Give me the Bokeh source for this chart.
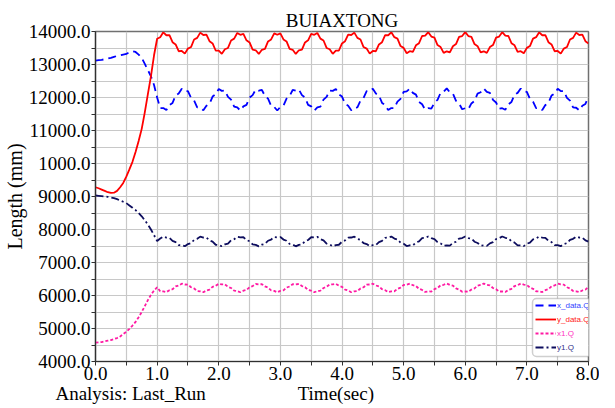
from bokeh.plotting import figure
from bokeh.models import (Range1d, FixedTicker, Legend, LegendItem,
                          BoxAnnotation, LinearAxis)
from bokeh.embed import file_html
from bokeh.resources import INLINE

# ---------------- data ----------------
title_text = "BUIAXTONG"
y_label = "Length (mm)"
x_label = "Time(sec)"
run_label = "Analysis: Last_Run"
series_names = ["x_data.Q", "y_data.Q", "x1.Q", "y1.Q"]

# sampling grid: 0.00 .. 8.00 s every 0.05 s
time = [round(i * 0.05, 2) for i in range(161)]

x_data = [13120, 13130, 13140, 13160, 13180, 13200, 13230, 13260, 13280, 13300,
          13320, 13370, 13400, 13380, 13300, 13200, 13020, 12830, 12640, 12380,
          12000,
          11680, 11681, 11619, 11771, 11836, 12059, 12120, 12265, 12195, 12190,
          11989, 11906, 11701, 11689, 11611, 11750, 11806, 12029, 12097, 12256,
          12201, 12210, 12018, 11936, 11725, 11700, 11606, 11730, 11778, 11998,
          12073, 12243, 12205, 12228, 12046, 11967, 11750, 11714, 11605, 11714,
          11750, 11967, 12046, 12228, 12205, 12243, 12072, 11998, 11778, 11730,
          11606, 11700, 11725, 11936, 12018, 12210, 12201, 12256, 12097, 12029,
          11806, 11750, 11611, 11689, 11701, 11906, 11989, 12190, 12195, 12265,
          12120, 12059, 11836, 11771, 11619, 11681, 11680, 11876, 11959, 12167,
          12186, 12271, 12140, 12088, 11866, 11795, 11630, 11676, 11660, 11848,
          11928, 12143, 12173, 12275, 12158, 12116, 11897, 11820, 11644, 11675,
          11644, 11820, 11897, 12116, 12158, 12275, 12173, 12142, 11928, 11848,
          11660, 11676, 11630, 11795, 11866, 12088, 12140, 12271, 12186, 12167,
          11959,
          11876, 11680, 11681, 11619, 11771, 11836, 12059, 12120, 12265, 12195,
          12190, 11989, 11906, 11701, 11689, 11611, 11750, 11806, 12029]

y_data = [9280, 9250, 9210, 9170, 9130, 9110, 9115, 9170, 9280, 9410,
          9600, 9820, 10050, 10350, 10680, 11050, 11550, 12100, 12650, 13280,
          13780,
          13828, 13974, 13886, 13887, 13677, 13609, 13402, 13410, 13330, 13482,
          13529, 13757, 13807, 13966, 13894, 13908, 13705, 13638, 13424, 13419,
          13323, 13463, 13501, 13727, 13784, 13956, 13899, 13926, 13733, 13668,
          13448, 13431, 13320, 13446, 13473, 13698, 13759, 13942, 13900, 13942,
          13759, 13698, 13474, 13446, 13320, 13431, 13448, 13668, 13733, 13926,
          13899, 13956, 13784, 13727, 13501, 13463, 13323, 13419, 13424, 13638,
          13705, 13908, 13894, 13966, 13807, 13757, 13529, 13482, 13330, 13410,
          13402, 13609, 13677, 13887, 13886, 13974, 13828, 13785, 13558, 13504,
          13339, 13403, 13383, 13581, 13647, 13864, 13876, 13979, 13846, 13813,
          13588, 13528, 13351, 13400, 13366, 13553, 13618, 13839, 13862, 13980,
          13862, 13839, 13618, 13554, 13366, 13400, 13351, 13528, 13588, 13813,
          13846, 13979, 13876, 13864, 13647, 13581, 13383, 13403, 13339, 13504,
          13558,
          13785, 13828, 13974, 13886, 13887, 13677, 13609, 13402, 13410, 13330,
          13482, 13529, 13757, 13807, 13966, 13894, 13908, 13705, 13638]

x1 = [4570, 4580, 4590, 4610, 4630, 4650, 4680, 4710, 4760, 4830,
      4900, 4990, 5090, 5200, 5340, 5500, 5680, 5860, 6020, 6150,
      6250,
      6128, 6125, 6104, 6161, 6190, 6275, 6304, 6358, 6334, 6328,
      6251, 6214, 6137, 6128, 6101, 6152, 6179, 6263, 6295, 6354,
      6337, 6336, 6263, 6227, 6146, 6132, 6099, 6144, 6167, 6251,
      6285, 6349, 6338, 6343, 6275, 6239, 6156, 6138, 6098, 6138,
      6156, 6239, 6274, 6343, 6338, 6349, 6285, 6251, 6167, 6144,
      6099, 6132, 6146, 6227, 6263, 6336, 6337, 6354, 6295, 6263,
      6179, 6152, 6101, 6128, 6137, 6214, 6251, 6328, 6334, 6358,
      6304, 6275, 6190, 6161, 6104, 6125, 6128, 6203, 6239, 6319,
      6330, 6361, 6312, 6287, 6203, 6170, 6108, 6123, 6120, 6191,
      6227, 6309, 6325, 6362, 6319, 6299, 6215, 6180, 6114, 6122,
      6114, 6180, 6215, 6298, 6319, 6362, 6325, 6309, 6227, 6191,
      6120, 6123, 6108, 6170, 6203, 6287, 6312, 6361, 6330, 6319,
      6239,
      6203, 6128, 6125, 6104, 6161, 6190, 6275, 6304, 6358, 6334,
      6328, 6251, 6214, 6137, 6128, 6101, 6152, 6179, 6263]

y1 = [9030, 9020, 9010, 9000, 8990, 8970, 8950, 8920, 8880, 8840,
      8800, 8730, 8660, 8590, 8500, 8400, 8280, 8150, 8000, 7830,
      7650,
      7726, 7787, 7754, 7747, 7656, 7617, 7528, 7524, 7494, 7558,
      7587, 7686, 7717, 7784, 7757, 7756, 7669, 7631, 7538, 7529,
      7492, 7549, 7574, 7672, 7706, 7779, 7759, 7765, 7682, 7645,
      7550, 7534, 7490, 7541, 7561, 7659, 7695, 7772, 7760, 7772,
      7695, 7659, 7562, 7541, 7490, 7534, 7550, 7645, 7682, 7765,
      7759, 7779, 7706, 7672, 7574, 7549, 7492, 7529, 7538, 7631,
      7669, 7756, 7757, 7784, 7717, 7686, 7587, 7558, 7494, 7524,
      7528, 7617, 7656, 7747, 7754, 7787, 7726, 7699, 7601, 7568,
      7499, 7522, 7519, 7604, 7642, 7736, 7749, 7789, 7735, 7712,
      7615, 7580, 7504, 7520, 7511, 7591, 7629, 7725, 7742, 7790,
      7742, 7725, 7629, 7592, 7511, 7520, 7504, 7580, 7615, 7712,
      7735, 7789, 7749, 7736, 7642, 7604, 7519, 7522, 7499, 7568,
      7601,
      7699, 7726, 7787, 7754, 7747, 7656, 7617, 7528, 7524, 7494,
      7558, 7587, 7686, 7717, 7784, 7757, 7756, 7669, 7631]

x_ticks = [0, 1, 2, 3, 4, 5, 6, 7, 8]
x_tick_labels = ["0.0", "1.0", "2.0", "3.0", "4.0", "5.0", "6.0", "7.0", "8.0"]
y_ticks = [4000, 5000, 6000, 7000, 8000, 9000, 10000, 11000, 12000, 13000, 14000]
y_tick_labels = ["4000.0", "5000.0", "6000.0", "7000.0", "8000.0", "9000.0",
                 "1000.0", "11000.0", "12000.0", "13000.0", "14000.0"]

for s in (x_data, y_data, x1, y1):
    assert len(s) == len(time), len(s)

# ---------------- styling / layout ----------------
SERIF = "Liberation Serif"
SANS = "Liberation Sans"
line_colors = ["#0000ff", "#ff0000", "#ff1aa3", "#0d0d5e"]
line_dashes = ["8 5", "solid", "3 2", "8 3 2 3"]
label_colors = ["#3344ff", "#ff2020", "#ff33c0", "#30308a"]
RUN_LABEL_AT = 0.57      # where the footer texts sit along the time axis
X_LABEL_AT = 3.9

p = figure(width=599, height=406, output_backend="svg", toolbar_location=None,
           x_range=Range1d(0, 8), y_range=Range1d(4000, 14000),
           min_border_left=88, min_border_right=11, min_border_top=31,
           min_border_bottom=0)
p.background_fill_color = "white"
p.border_fill_color = "white"
p.outline_line_color = "#707070"
p.outline_line_width = 1.5

p.title.text = title_text
p.title.align = "center"
p.title.offset = 8
p.title.text_font = SERIF
p.title.text_font_size = "19px"
p.title.text_font_style = "normal"
p.title.text_color = "black"
p.title.standoff = 2

# axes
p.xaxis.ticker = FixedTicker(ticks=x_ticks,
                             minor_ticks=[t + 0.5 for t in x_ticks[:-1]])
p.yaxis.ticker = FixedTicker(ticks=y_ticks,
                             minor_ticks=[t + 500 for t in y_ticks[:-1]])
p.xaxis.major_label_overrides = dict(zip(x_ticks, x_tick_labels))
p.yaxis.major_label_overrides = dict(zip(y_ticks, y_tick_labels))
for ax in (p.xaxis[0], p.yaxis[0]):
    ax.axis_line_color = "#303030"
    ax.axis_line_width = 1.2
    ax.major_tick_line_color = "#303030"
    ax.minor_tick_line_color = "#303030"
    ax.major_tick_in = 0
    ax.major_tick_out = 4
    ax.minor_tick_in = 0
    ax.minor_tick_out = 4
    ax.major_label_text_font = SERIF
    ax.major_label_text_font_size = "19px"
    ax.major_label_text_color = "black"
    ax.major_label_standoff = 1
p.yaxis.axis_label = y_label
p.yaxis.axis_label_text_font = SERIF
p.yaxis.axis_label_text_font_size = "20px"
p.yaxis.axis_label_text_font_style = "normal"
p.yaxis.axis_label_text_color = "black"
p.yaxis.axis_label_standoff = 0

# footer row: "Analysis: Last_Run" and "Time(sec)" on one line
footer = LinearAxis(ticker=FixedTicker(ticks=[RUN_LABEL_AT, X_LABEL_AT]),
                    major_label_overrides={RUN_LABEL_AT: run_label,
                                           X_LABEL_AT: x_label},
                    axis_line_color=None, major_tick_line_color=None,
                    minor_tick_line_color=None, major_tick_in=0,
                    major_tick_out=0, minor_tick_in=0, minor_tick_out=0,
                    major_label_standoff=0,
                    major_label_text_font=SERIF,
                    major_label_text_font_size="19px",
                    major_label_text_color="black")
p.add_layout(footer, "below")

# grid every 0.5 s / 500 mm
p.xgrid.ticker = FixedTicker(ticks=[i * 0.5 for i in range(17)])
p.ygrid.ticker = FixedTicker(ticks=[4000 + i * 500 for i in range(21)])
for g in (p.xgrid[0], p.ygrid[0]):
    g.grid_line_color = "#c8c8c8"
    g.grid_line_width = 1.2

# lines
series = [x_data, y_data, x1, y1]
renderers = []
for ys, col, dash in zip(series, line_colors, line_dashes):
    r = p.line(time, ys, line_color=col, line_width=1.8, line_dash=dash)
    renderers.append(r)

# legend box + one legend per item (each label keeps its own colour)
p.add_layout(BoxAnnotation(left=437, right=498, bottom=5, top=63,
                           left_units="screen", right_units="screen",
                           bottom_units="screen", top_units="screen",
                           fill_color="white", fill_alpha=1.0,
                           line_color="#606060", line_width=1.5,
                           border_radius=4))
row_y = [50, 36, 22, 8]
for name, r, lc, yy in zip(series_names, renderers, label_colors, row_y):
    leg = Legend(items=[LegendItem(label=name, renderers=[r])],
                 location=(440, yy), padding=0, margin=0, spacing=0,
                 border_line_alpha=0, background_fill_alpha=0,
                 glyph_width=21, glyph_height=12, label_standoff=1,
                 label_height=12, label_width=35, label_text_font=SANS,
                 label_text_font_size="8px", label_text_color=lc,
                 label_text_baseline="middle")
    p.add_layout(leg)

open("out.html", "w").write(file_html(p, INLINE))
